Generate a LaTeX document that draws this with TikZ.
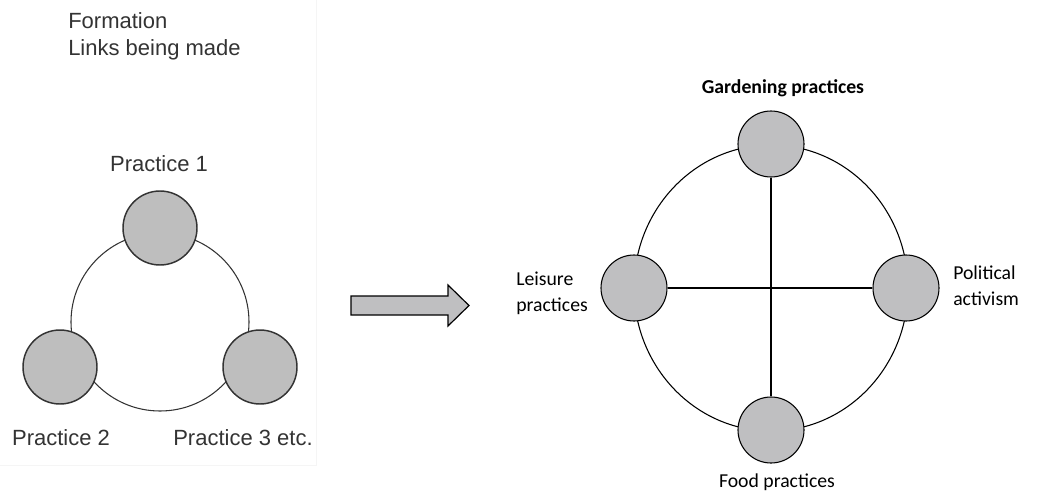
\documentclass[tikz,border=0pt]{standalone}
\usepackage{fontspec}
\setmainfont{Liberation Sans}
\newfontfamily\calibri{Carlito}
\usepackage{xcolor}
\usepackage{tikz}
\definecolor{inkgray}{HTML}{333333}
\definecolor{discgray}{HTML}{BEBEBE}
\definecolor{discgrayb}{HTML}{BFBFC1}

\tikzset{
  olddisc/.style={circle, draw=inkgray, line width=1.1pt, fill=discgray, minimum size=55.5pt, inner sep=0pt},
  newdisc/.style={circle, draw=black, line width=0.8pt, fill=discgrayb, minimum size=49.5pt, inner sep=0pt},
  oldlabel/.style={text=inkgray, font=\fontsize{16.5}{19}\selectfont, inner sep=0pt},
  newlabel/.style={text=black, font=\calibri\fontsize{14.8}{19.5}\selectfont, inner sep=0pt}
}

\begin{document}
\begin{tikzpicture}[x=0.75pt, y=-0.75pt]
  \useasboundingbox (0,0) rectangle (1058,493);
  % faint panel edge of the scanned figure
  \draw[black!4] (316,0) -- (316,465) -- (0,465);

  % left: formation
  \node[oldlabel, anchor=west] at (68,21) {Formation};
  \node[oldlabel, anchor=west] at (68,50) {Links being made};
  \coordinate (ring) at (160,322);
  \draw[inkgray, line width=0.8pt] (ring) circle (66.75pt);
  \node[olddisc] (p1) at (160,228) {};
  \node[olddisc] (p2) at (60,367) {};
  \node[olddisc] (p3) at (260,367) {};
  \node[oldlabel] at (159,164) {Practice 1};
  \node[oldlabel] at (61,438) {Practice 2};
  \node[oldlabel] at (243,438) {Practice 3 etc.};

  % block arrow
  \draw[black, line width=0.9pt, fill=discgrayb]
    (351,296) -- (448,296) -- (448,285) -- (469,305.5) -- (448,326)
    -- (448,315) -- (351,315) -- cycle;

  % right: linked practices
  \coordinate (hub) at (771,288);
  \draw[black, line width=0.8pt] (hub) ellipse (102.75pt and 107.25pt);
  \node[newdisc] (gard) at (771,144) {};
  \node[newdisc] (leis) at (634,288) {};
  \node[newdisc] (poli) at (906,288) {};
  \node[newdisc] (food) at (771,430) {};
  \draw[black, line width=0.8pt] (gard) -- (food);
  \draw[black, line width=0.8pt] (leis) -- (poli);
  \node[newlabel, font=\calibri\bfseries\fontsize{14.8}{19}\selectfont] at (783,88) {Gardening practices};
  \node[newlabel, anchor=west, align=left] at (516,293) {Leisure\\practices};
  \node[newlabel, anchor=west, align=left] at (953,286) {Political\\activism};
  \node[newlabel] at (777,482) {Food practices};
\end{tikzpicture}
\end{document}
